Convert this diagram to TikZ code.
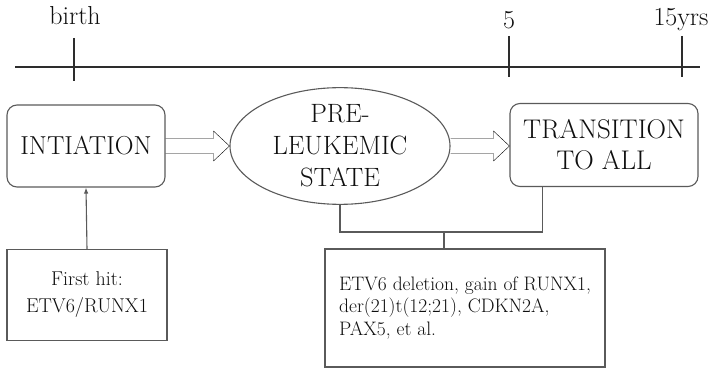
\documentclass[tikz,border=0pt]{standalone}
\usetikzlibrary{shapes.geometric, arrows.meta, calc}
\definecolor{LineGray}{RGB}{90, 90, 90}
\definecolor{AxisGray}{RGB}{45, 45, 45}
\definecolor{InkBlack}{RGB}{15, 15, 15}

\begin{document}
\begin{tikzpicture}[x=1pt, y=-1pt,
        phase/.style={draw=LineGray, rounded corners=10pt, line width=1.1pt, inner sep=0pt, align=center, text=InkBlack, font=\fontsize{26}{31}\selectfont},
        state/.style={ellipse, draw=LineGray, line width=1.1pt, inner sep=0pt, minimum width=220pt, minimum height=109pt, align=center, text=InkBlack, font=\fontsize{26.5}{32}\selectfont},
        hitbox/.style={draw=LineGray, line width=1.1pt, inner sep=0pt, text=InkBlack},
        age/.style={text=InkBlack, font=\fontsize{26}{30}\selectfont, inner sep=0pt},
        tick/.style={line width=1.6pt, AxisGray},
        hollow/.style={draw=LineGray, line width=1pt, to path={let \p1=(\tikztostart), \p2=(\tikztotarget) in
            (\x1,\y1+7.5pt) -- (\x2-16pt,\y1+7.5pt) -- (\x2-16pt,\y1+15pt) -- (\x2,\y1) -- (\x2-16pt,\y1-15pt) -- (\x2-16pt,\y1-7.5pt) -- (\x1,\y1-7.5pt)}},
        link/.style={draw=LineGray, line width=1.1pt}
    ]
        \useasboundingbox (0,0) rectangle (712,374);

        % Time axis
        \coordinate (tstart) at (15,67);
        \coordinate (tend) at (700,67);
        \draw[tick, line width=1.9pt] (tstart) -- (tend);
        \node[age] (birth) at (75,16) {birth};
        \node[age] (five) at (509,20) {5};
        \node[age] (fifteen) at (681,20) {15yrs};
        \draw[tick] (74,38) -- (74,81);
        \draw[tick] (509,36) -- (509,77);
        \draw[tick] (682,36) -- (682,77);

        % Stages
        \node[phase, minimum width=158pt, minimum height=82pt] (init) at (86,146) {INTIATION};
        \node[state] (pre) at (340,146) {PRE-\\LEUKEMIC\\STATE};
        \node[phase, minimum width=188pt, minimum height=83pt, font=\fontsize{27}{31}\selectfont] (trans) at (604,145) {TRANSITION\\TO ALL};

        % Genetic hits
        \node[hitbox, minimum width=160pt, minimum height=91pt, align=center, font=\fontsize{20}{27}\selectfont] (hit) at (87,295) {First hit:\\ETV6/RUNX1};
        \node[hitbox, minimum width=280pt, minimum height=118pt, align=left, font=\fontsize{19.5}{22.5}\selectfont] (second) at (465,308) {ETV6 deletion, gain of RUNX1,\\der(21)t(12;21), CDKN2A,\\PAX5, et al.};

        % Connections
        \draw (init.east) to[hollow] (pre.west);
        \draw (pre.east) to[hollow] (trans.west);
        \draw[link, -{Latex[length=6pt,width=4.5pt]}] (hit.north) -- (init.south);
        \coordinate (join) at (444,232);
        \draw[link] (pre.south) |- (join) -| ([xshift=33pt]trans.south west);
        \draw[link] (join) -- (join |- second.north);
    \end{tikzpicture}
\end{document}
